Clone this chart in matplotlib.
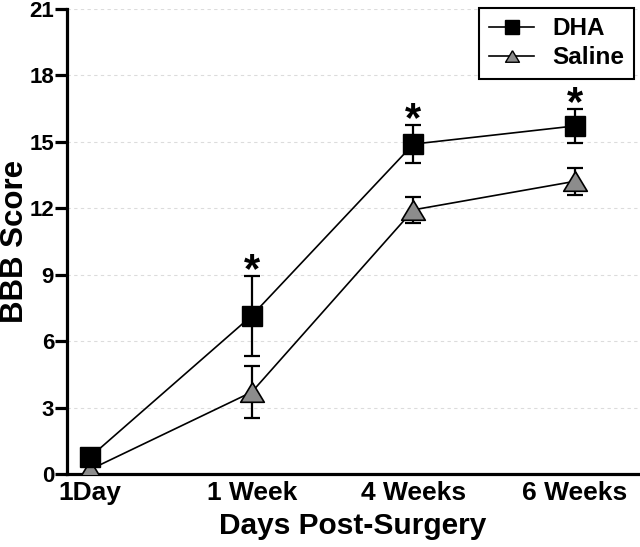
import matplotlib
matplotlib.use('Agg')
import matplotlib.pyplot as plt
from matplotlib.lines import Line2D
import numpy as np

plt.rcParams['font.family'] = ['Liberation Sans', 'DejaVu Sans']
plt.rcParams['font.weight'] = 'bold'

# ----------
# Data
# ----------
timepoints = ['1Day', '1 Week', '4 Weeks', '6 Weeks']
dha_mean = [0.77, 7.15, 14.9, 15.72]
dha_sem = [0.0, 1.8, 0.86, 0.77]
saline_mean = [0.2, 3.7, 11.93, 13.22]
saline_sem = [0.0, 1.18, 0.58, 0.6]
signif = [False, True, True, True]
yticks = [0, 3, 6, 9, 12, 15, 18, 21]

x = np.arange(len(timepoints))

# slightly flattened triangle, like the original
tri = [(0, 0.83), (-1, -0.83), (1, -0.83), (0, 0.83)]

fig = plt.figure(figsize=(6.4, 5.47), dpi=100)
ax = fig.add_axes([0.105, 0.1335, 0.892, 0.85])

line_kw = dict(color='black', lw=1.2)
err_kw = dict(fmt='none', ecolor='black', elinewidth=1.6, capsize=6, capthick=1.6)

# Saline
has_err = np.array(saline_sem) > 0
ax.errorbar(x[has_err], np.array(saline_mean)[has_err],
            yerr=np.array(saline_sem)[has_err], zorder=2, **err_kw)
ax.plot(x, saline_mean, marker=tri, ms=17, mfc='#8c8c8c', mec='black',
        mew=1.2, zorder=3, **line_kw)

# DHA
has_err = np.array(dha_sem) > 0
ax.errorbar(x[has_err], np.array(dha_mean)[has_err],
            yerr=np.array(dha_sem)[has_err], zorder=4, **err_kw)
ax.plot(x, dha_mean, marker='s', ms=14, mfc='black', mec='black',
        zorder=5, **line_kw)

# asterisks above DHA error bars
for xi, m, s, sig in zip(x, dha_mean, dha_sem, signif):
    if sig:
        ax.text(xi, m + s - 0.68, '*', ha='center', va='bottom',
                fontsize=30, fontweight='bold', zorder=6)

ax.set_xlim(-0.142, 3.39)
ax.set_ylim(0, 21)
ax.set_xticks(x)
ax.set_xticklabels(timepoints)
ax.set_yticks(yticks)
ax.yaxis.grid(True, ls=(0, (3, 3)), color='#dcdcdc', lw=0.8)
ax.set_axisbelow(True)

for side in ['top', 'right']:
    ax.spines[side].set_visible(False)
for side in ['left', 'bottom']:
    ax.spines[side].set_linewidth(2.3)
ax.tick_params(axis='y', width=2.3, length=8.5, labelsize=16, pad=1)
ax.tick_params(axis='x', length=0, labelsize=19, pad=5)

ax.set_ylabel('BBB Score', fontsize=22.5, fontweight='bold')
ax.yaxis.set_label_coords(-0.066, 0.5)
ax.set_xlabel('Days Post-Surgery', fontsize=21.5, fontweight='bold')
ax.xaxis.set_label_coords(0.5, -0.082)

handles = [
    Line2D([], [], color='black', lw=1.2, marker='s', ms=9.5, mfc='black', mec='black'),
    Line2D([], [], color='black', lw=1.2, marker=tri, ms=10, mfc='#8c8c8c', mec='black'),
]
leg = ax.legend(handles, ['DHA', 'Saline'], loc='upper right',
                bbox_to_anchor=(0.993, 1.003), fontsize=17.5, frameon=True,
                fancybox=False, edgecolor='black', framealpha=1,
                handlelength=1.85, borderpad=0.4, labelspacing=0.25,
                handletextpad=0.75, borderaxespad=0)
leg.get_frame().set_linewidth(1.5)

fig.savefig('out.png', dpi=100)
